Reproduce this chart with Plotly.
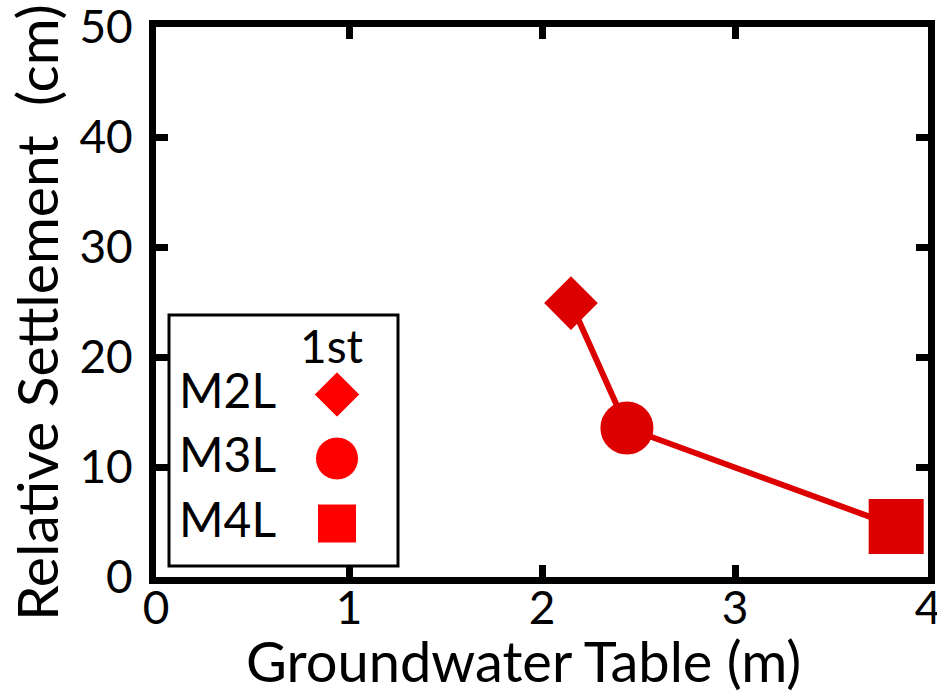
import plotly.graph_objects as go

# ---- data ----
models = ["M2L", "M3L", "M4L"]
groundwater_table = [2.15, 2.44, 3.835]   # m
relative_settlement = [24.9, 13.55, 4.6]  # cm
symbols = ["diamond", "circle", "square"]
legend_heading = "1st"
x_ticks = [0, 1, 2, 3, 4]
y_ticks = [0, 10, 20, 30, 40, 50]

DATA_RED = "#DD0000"
LEG_RED = "#FF0000"
FONT = "Lato, 'Open Sans', sans-serif"

W, H = 937, 693
L, R, T, B = 156, 9, 27, 116
PW, PH = W - L - R, H - T - B

def px(xp):
    return (xp - L) / PW

def py(yp):
    return (H - B - yp) / PH

fig = go.Figure()

fig.add_trace(go.Scatter(
    x=groundwater_table, y=relative_settlement,
    mode="lines+markers",
    line=dict(color=DATA_RED, width=6),
    marker=dict(symbol=symbols, size=[38, 50, 52], color=DATA_RED, opacity=1,
                line=dict(color=DATA_RED, width=3)),
    showlegend=False, hoverinfo="skip",
))

# custom legend (markers on an invisible overlay axis in paper-fraction units)
leg_x = px(337)
leg_y = [py(394.5), py(458.5), py(523.5)]
fig.add_trace(go.Scatter(
    x=[leg_x] * 3, y=leg_y, mode="markers",
    marker=dict(symbol=symbols, size=[35, 43, 39], color=LEG_RED, opacity=1),
    xaxis="x2", yaxis="y2", showlegend=False, hoverinfo="skip",
))

fig.add_shape(type="rect", xref="paper", yref="paper",
              x0=px(169), x1=px(398), y0=py(566), y1=py(315),
              line=dict(color="black", width=3), fillcolor="rgba(0,0,0,0)")

ann = []
ann.append(dict(text=legend_heading, x=px(332), y=py(345.5), xref="paper", yref="paper",
                showarrow=False, xanchor="center", yanchor="middle",
                font=dict(size=46, color="black", family=FONT)))
for m, yp in zip(models, [390, 453.5, 518]):
    ann.append(dict(text=m, x=px(177), y=py(yp), xref="paper", yref="paper",
                    showarrow=False, xanchor="left", yanchor="middle",
                    font=dict(size=48, color="black", family=FONT)))
# axis titles
ann.append(dict(text="Groundwater Table (m)", x=px(523), y=py(660.5), xref="paper", yref="paper",
                showarrow=False, xanchor="center", yanchor="middle",
                font=dict(size=56, color="black", family=FONT)))
ann.append(dict(text="Relative Settlement\u00a0 (cm)", x=px(36), y=py(313), xref="paper", yref="paper",
                showarrow=False, xanchor="center", yanchor="middle", textangle=-90,
                font=dict(size=57, color="black", family=FONT)))

axis_common = dict(showline=True, linecolor="black", linewidth=7, mirror="ticks",
                   ticks="inside", ticklen=12, tickwidth=7, tickcolor="black",
                   showgrid=False, zeroline=False, automargin=False,
                   ticklabeloverflow="allow",
                   tickfont=dict(size=46, color="black", family=FONT))

fig.update_layout(
    width=W, height=H,
    margin=dict(l=L, r=R, t=T, b=B, autoexpand=False),
    paper_bgcolor="white", plot_bgcolor="white",
    font=dict(family=FONT, color="black"),
    xaxis=dict(range=[0, 4], tickvals=x_ticks, ticktext=[str(v) for v in x_ticks],
               ticklabelstandoff=-15, **axis_common),
    yaxis=dict(range=[0, 50], tickvals=y_ticks, ticktext=[str(v) for v in y_ticks],
               ticklabelstandoff=7, **axis_common),
    xaxis2=dict(overlaying="x", range=[0, 1], visible=False, domain=[0, 1]),
    yaxis2=dict(overlaying="y", range=[0, 1], visible=False, domain=[0, 1]),
    annotations=ann,
    showlegend=False,
)

fig.write_html(
    "out.html",
    config={"displayModeBar": False},
    post_script="document.body.style.margin='0';document.body.style.overflow='hidden';",
)
